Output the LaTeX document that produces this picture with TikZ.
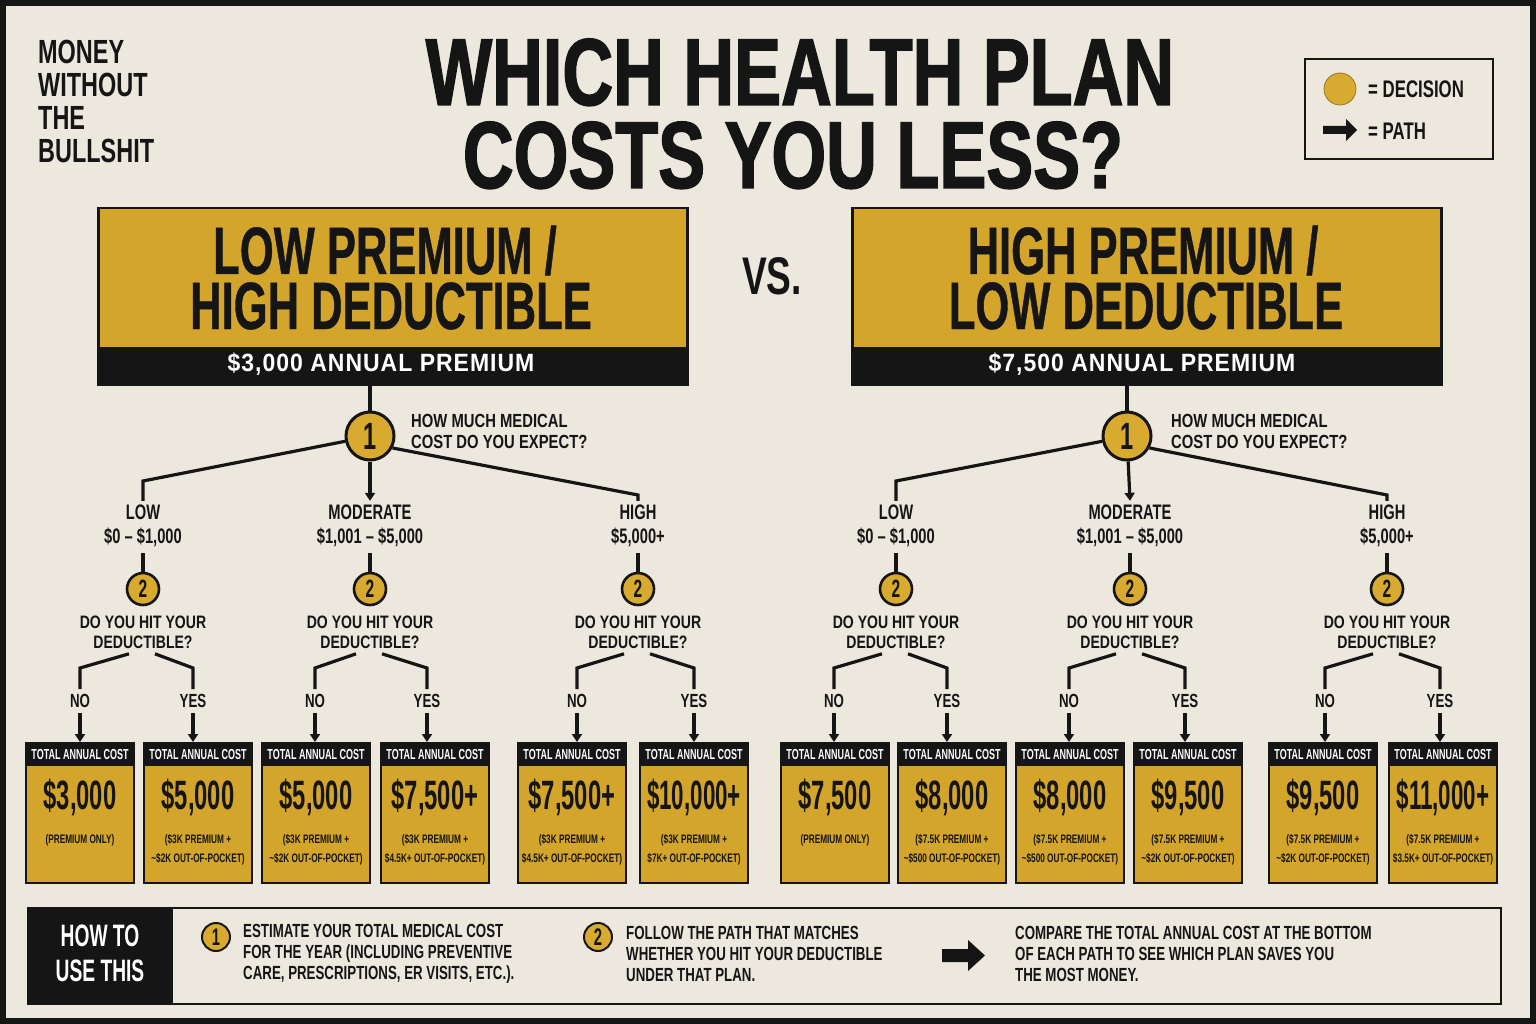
\documentclass[tikz,border=0pt]{standalone}
\usepackage{fontspec}
\usetikzlibrary{arrows.meta}
\newfontfamily\fA{Liberation Sans}[FakeStretch=0.70]
\newfontfamily\fS{Liberation Sans}[FakeStretch=0.78]
\newfontfamily\fB{Liberation Sans}[FakeStretch=0.62]
\newfontfamily\fH{Liberation Sans}[FakeStretch=0.65,FakeBold=0.6]
\newfontfamily\fN{Liberation Sans}[FakeStretch=0.58]
\newfontfamily\fM{Liberation Sans}[FakeStretch=0.545]
\newfontfamily\fC{Liberation Sans}[FakeStretch=0.67]
\newfontfamily\fT{Liberation Sans}[FakeStretch=0.74,FakeBold=1.5]
\newfontfamily\fD{Liberation Sans}[FakeStretch=0.92,LetterSpace=4]
\definecolor{paper}{HTML}{EDE8DE}
\definecolor{gold}{HTML}{D4A52B}
\definecolor{cgold}{HTML}{D8AB30}
\definecolor{ink}{HTML}{151515}
\newcommand\ff[3]{#1\fontsize{#2}{#3}\selectfont\bfseries}

\tikzset{
  tl/.style={draw=ink, line width=3.2pt, line join=miter},
  ar/.style={tl, -{Triangle[width=10pt,length=8pt]}},
  decA/.style={circle, draw=ink, line width=3pt, fill=cgold, inner sep=0, minimum size=48, font=\ff\fB{38}{38}, text=ink},
  decB/.style={circle, draw=ink, line width=2.6pt, fill=cgold, inner sep=0, minimum size=32, font=\ff\fB{25}{25}, text=ink},
  decC/.style={circle, draw=ink, line width=2pt, fill=cgold, inner sep=0, minimum size=28, font=\ff\fB{24}{24}, text=ink},
  rng/.style={inner sep=0, align=center, text=ink, font=\ff\fA{21}{24}},
  qst/.style={inner sep=0, align=center, text=ink, font=\ff\fS{18}{19.5}},
  yn/.style={inner sep=0, text=ink, font=\ff\fA{19}{19}},
  cbody/.style={anchor=north, draw=ink, line width=1.5pt, fill=gold, minimum width=108, minimum height=140, inner sep=0},
  chead/.style={anchor=north, fill=ink, text=white, minimum width=108, minimum height=24, inner sep=0, font=\ff\fB{14.5}{14.5}},
  cval/.style={inner sep=0, text=ink, font=\ff\fN{41}{41}},
  csub/.style={inner sep=0, align=center, text=ink, font=\ff\fC{12.3}{19}},
  btxt/.style={inner sep=0, align=left, anchor=west, text=ink, font=\ff\fA{19}{21}},
  hdtxt/.style={inner sep=0, text=ink, text height=48pt, text depth=0pt, font=\ff\fH{67}{67}},
  tttxt/.style={inner sep=0, text=ink, text height=68pt, text depth=0pt, font=\ff\fT{95}{95}},
}

\newcommand\costbox[5]{%
  \node[cbody] (#1) at (#2,742) {};
  \node[chead] (#1h) at (#2,742) {TOTAL ANNUAL COST};
  \node[cval] (#1v) at (#2,797) {#3};
  \node[csub] (#1s) at (#2,#5) {#4};
}
\newcommand\subtree[5]{%
  \node[rng] (#1r) at (#2,526) {#3};
  \node[decB] (#1c) at (#2,589) {2};
  \node[qst] (#1q) at (#2,632.5) {DO YOU HIT YOUR\\DEDUCTIBLE?};
  \node[yn] (#1no) at (#4,701) {NO};
  \node[yn] (#1yes) at (#5,701) {YES};
  \draw[tl] ([yshift=-6pt]#1r.south) -- (#1c);
  \draw[tl] ([xshift=-14pt,yshift=-5pt]#1q.south) -- (#4,668) -- ([yshift=5pt]#1no.north);
  \draw[tl] ([xshift=12pt,yshift=-5pt]#1q.south) -- (#5,668) -- ([yshift=5pt]#1yes.north);
  \draw[ar] ([yshift=-5pt]#1no.south) -- (#1no.south |- #1n.north);
  \draw[ar] ([yshift=-5pt]#1yes.south) -- (#1yes.south |- #1y.north);
}

\begin{document}
\begin{tikzpicture}[x=1pt,y=-1pt]
\useasboundingbox (0,0) rectangle (1536,1024);
\fill[ink] (0,0) rectangle (1536,1024);
\fill[paper] (6,6) rectangle (1530,1018);

% logo
\node[inner sep=0, anchor=west, align=left, text=ink, font=\ff\fA{33.5}{33}] (logo) at (38,101.5) {MONEY\\WITHOUT\\THE\\BULLSHIT};

% title
\node[tttxt] (title1) at (800,71) {WHICH HEALTH PLAN};
\node[tttxt] (title2) at (793,154) {COSTS YOU LESS?};

% legend
\node[draw=ink, line width=2pt, minimum width=188, minimum height=100, anchor=north west, inner sep=0] (legend) at (1304,58) {};
\node[circle, fill=cgold, draw=cgold!70!black, line width=0.8pt, minimum size=32, inner sep=0] (legdec) at (1340,89) {};
\node[inner sep=0, anchor=west, text=ink, font=\ff\fA{24}{24}] (legdect) at (1368,89) {= DECISION};
\fill[ink] (1323,126) -- (1346,126) -- (1346,119) -- (1357,130) -- (1346,141) -- (1346,134) -- (1323,134) -- cycle;
\node[inner sep=0, anchor=west, text=ink, font=\ff\fA{24}{24}] (legpath) at (1368,131) {= PATH};

% VS
\node[inner sep=0, text=ink, font=\ff\fA{53}{53}] (vs) at (772,276) {VS.};

% plan headers
\node[draw=ink, line width=2.5pt, fill=gold, minimum width=589, minimum height=176, anchor=north west, inner sep=0] (hdrL) at (97,207) {};
\node[fill=ink, minimum width=589, minimum height=38, anchor=south west, inner sep=0] (bandL) at (hdrL.south west) {};
\node[hdtxt] (hdrLt1) at (385,250) {LOW PREMIUM /};
\node[hdtxt] (hdrLt2) at (391,305) {HIGH DEDUCTIBLE};
\node[inner sep=0, text=white, font=\ff\fD{25}{25}] (bandLt) at (381,364) {\$3,000 ANNUAL PREMIUM};

\node[draw=ink, line width=2.5pt, fill=gold, minimum width=589, minimum height=176, anchor=north west, inner sep=0] (hdrR) at (851,207) {};
\node[fill=ink, minimum width=589, minimum height=38, anchor=south west, inner sep=0] (bandR) at (hdrR.south west) {};
\node[hdtxt] (hdrRt1) at (1143,250) {HIGH PREMIUM /};
\node[hdtxt] (hdrRt2) at (1146,305) {LOW DEDUCTIBLE};
\node[inner sep=0, text=white, font=\ff\fD{25}{25}] (bandRt) at (1142,364) {\$7,500 ANNUAL PREMIUM};

% decision 1
\node[decA] (c1L) at (370,436) {1};
\node[inner sep=0, anchor=west, align=left, text=ink, font=\ff\fS{19}{21}] (q1L) at (411,431) {HOW MUCH MEDICAL\\COST DO YOU EXPECT?};
\node[decA] (c1R) at (1127,436) {1};
\node[inner sep=0, anchor=west, align=left, text=ink, font=\ff\fS{19}{21}] (q1R) at (1171,431) {HOW MUCH MEDICAL\\COST DO YOU EXPECT?};
\draw[tl] (c1L.north |- hdrL.south) -- (c1L);
\draw[tl] (c1R.north |- hdrR.south) -- (c1R);

% cost boxes (left plan)
\costbox{LAn}{80}{\$3,000}{(PREMIUM ONLY)}{840}
\costbox{LAy}{198}{\$5,000}{(\$3K PREMIUM +\\\textasciitilde\$2K OUT-OF-POCKET)}{849.5}
\costbox{LBn}{316}{\$5,000}{(\$3K PREMIUM +\\\textasciitilde\$2K OUT-OF-POCKET)}{849.5}
\costbox{LBy}{435}{\$7,500+}{(\$3K PREMIUM +\\\$4.5K+ OUT-OF-POCKET)}{849.5}
\costbox{LCn}{572}{\$7,500+}{(\$3K PREMIUM +\\\$4.5K+ OUT-OF-POCKET)}{849.5}
\costbox{LCy}{694}{{\fM\bfseries \$10,000+}}{(\$3K PREMIUM +\\\$7K+ OUT-OF-POCKET)}{849.5}
% cost boxes (right plan)
\costbox{RAn}{835}{\$7,500}{(PREMIUM ONLY)}{840}
\costbox{RAy}{952}{\$8,000}{(\$7.5K PREMIUM +\\\textasciitilde\$500 OUT-OF-POCKET)}{849.5}
\costbox{RBn}{1070}{\$8,000}{(\$7.5K PREMIUM +\\\textasciitilde\$500 OUT-OF-POCKET)}{849.5}
\costbox{RBy}{1188}{\$9,500}{(\$7.5K PREMIUM +\\\textasciitilde\$2K OUT-OF-POCKET)}{849.5}
\costbox{RCn}{1323}{\$9,500}{(\$7.5K PREMIUM +\\\textasciitilde\$2K OUT-OF-POCKET)}{849.5}
\costbox{RCy}{1443}{{\fM\bfseries \$11,000+}}{(\$7.5K PREMIUM +\\\$3.5K+ OUT-OF-POCKET)}{849.5}

% subtrees
\subtree{LA}{143}{LOW\\\$0 – \$1,000}{80}{193}
\subtree{LB}{370}{MODERATE\\\$1,001 – \$5,000}{315}{427}
\subtree{LC}{638}{HIGH\\\$5,000+}{577}{694}
\subtree{RA}{896}{LOW\\\$0 – \$1,000}{834}{947}
\subtree{RB}{1130}{MODERATE\\\$1,001 – \$5,000}{1069}{1185}
\subtree{RC}{1387}{HIGH\\\$5,000+}{1325}{1440}

% branches from decision 1
\coordinate (kLlow) at (143,481);
\coordinate (kLhigh) at (638,495);
\coordinate (kRlow) at (896,481);
\coordinate (kRhigh) at (1387,495);
\draw[tl] (c1L.192) -- (kLlow) -- ([yshift=4pt]LAr.north);
\draw[ar] (c1L) -- ([yshift=4pt]LBr.north);
\draw[tl] (c1L.-28) -- (kLhigh) -- ([yshift=4pt]LCr.north);
\draw[tl] (c1R.192) -- (kRlow) -- ([yshift=4pt]RAr.north);
\draw[ar] (c1R) -- ([yshift=4pt]RBr.north);
\draw[tl] (c1R.-28) -- (kRhigh) -- ([yshift=4pt]RCr.north);

% how to use bar
\node[draw=ink, line width=2pt, fill=paper, minimum width=1473, minimum height=96, anchor=north west, inner sep=0] (bar) at (27,907) {};
\node[fill=ink, minimum width=146, minimum height=96, anchor=north west, inner sep=0] (howto) at (27,907) {};
\node[inner sep=0, align=center, text=white, font=\ff\fB{31}{35}] (howtot) at (100,953) {HOW TO\\USE THIS};
\node[decC] (b1) at (216,937) {1};
\node[btxt] (b1t) at (243,954) {ESTIMATE YOUR TOTAL MEDICAL COST\\FOR THE YEAR (INCLUDING PREVENTIVE\\CARE, PRESCRIPTIONS, ER VISITS, ETC.).};
\node[decC] (b2) at (598,937) {2};
\node[btxt] (b2t) at (626,954) {FOLLOW THE PATH THAT MATCHES\\WHETHER YOU HIT YOUR DEDUCTIBLE\\UNDER THAT PLAN.};
\fill[ink] (942,949) -- (968,949) -- (968,940) -- (985,955.5) -- (968,971) -- (968,962) -- (942,962) -- cycle;
\node[btxt] (b3t) at (1015,954) {COMPARE THE TOTAL ANNUAL COST AT THE BOTTOM\\OF EACH PATH TO SEE WHICH PLAN SAVES YOU\\THE MOST MONEY.};
\end{tikzpicture}
\end{document}
